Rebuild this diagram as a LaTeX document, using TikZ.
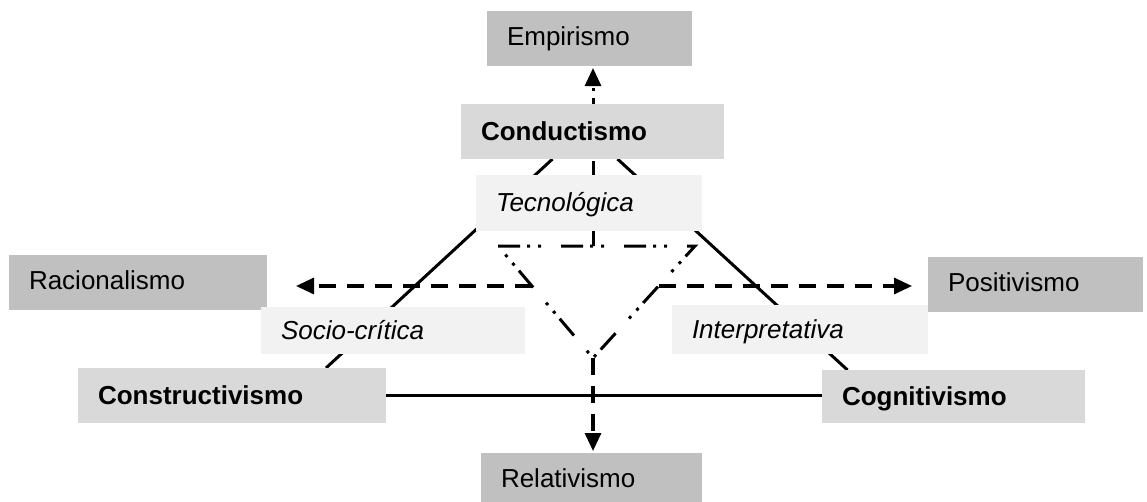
\documentclass[tikz,border=0pt]{standalone}
\usepackage{fontspec}
\setmainfont{Liberation Sans}
\usetikzlibrary{arrows.meta,calc}
\definecolor{darkbox}{HTML}{C0C0C0}
\definecolor{midbox}{HTML}{D9D9D9}
\definecolor{lightbox}{HTML}{F2F2F2}
\pgfdeclarelayer{background}
\pgfsetlayers{background,main}
\begin{document}
\begin{tikzpicture}[x=1pt,y=-1pt,
  lbl/.style={anchor=north west, inner xsep=20pt, inner ysep=0pt, outer sep=0pt,
    align=left, font=\fontsize{26}{30}\selectfont, text height=18.6pt, text depth=4pt},
  school/.style={lbl, fill=darkbox},
  theory/.style={lbl, fill=midbox, font=\fontsize{26}{30}\selectfont\bfseries, text depth=0pt},
  paradigm/.style={lbl, fill=lightbox, font=\fontsize{26}{30}\selectfont\itshape, text depth=1pt},
  solidln/.style={line width=3pt},
  dashln/.style={line width=3.2pt, dash pattern=on 17pt off 11pt},
  ddline/.style={line width=3pt, dash pattern=on 22pt off 7pt on 3pt off 8pt on 3pt off 20pt},
  tip/.style={-{Triangle[length=18pt,width=16pt]}}
]
\useasboundingbox (0,0) rectangle (1147,501);

% schools of thought
\node[school, text width=165pt, minimum height=55pt] (emp) at (487,11) {Empirismo};
\node[school, text width=218pt, minimum height=55pt] (rac) at (9,255) {Racionalismo};
\node[school, text width=175pt, minimum height=55pt] (pos) at (928,257) {Positivismo};
\node[school, text width=181pt, minimum height=55pt] (rel) at (481,453) {Relativismo};

% learning theories
\node[theory, text width=223pt, minimum height=55pt] (cond) at (461,104) {Conductismo};
\node[theory, text width=268pt, minimum height=55pt] (constr) at (78,368) {Constructivismo};
\node[theory, text width=223pt, minimum height=53pt] (cog) at (822,370) {Cognitivismo};

% paradigms
\node[paradigm, text width=186pt, minimum height=56pt] (tec) at (476,175) {Tecnológica};
\node[paradigm, text width=224pt, minimum height=47pt] (soc) at (261,307) {Socio-crítica};
\node[paradigm, text width=216pt, minimum height=49pt] (int) at (672,305) {Interpretativa};

% inner triangle and connectors
\coordinate (T1) at (498,246);
\coordinate (T2) at (695,246);
\coordinate (T3) at (593,358);
\coordinate (lstart) at ($(T1)!0.357!(T3)$);
\coordinate (rstart) at ($(T2)!0.357!(T3)$);

\begin{pgfonlayer}{background}
  \draw[solidln] ([xshift=-40pt]cond.south) -- ([xshift=94pt]constr.north);
  \draw[solidln] ([xshift=25pt]cond.south) -- ([xshift=-106pt]cog.north);
  \draw[solidln] (constr.east) -- (constr.east -| cog.west);
  \draw[ddline] (T1) -- (T2) -- (T3) -- cycle;
  \draw[ddline, tip, shorten >=2pt] (T3 |- T1) -- (T3 |- emp.south);
  \draw[dashln, tip, shorten >=29pt] (lstart) -- (lstart -| rac.east);
  \draw[dashln, tip, shorten >=16pt] (rstart) -- (rstart -| pos.west);
  \draw[dashln, tip, shorten >=2pt] (T3) -- (T3 |- rel.north);
\end{pgfonlayer}
\end{tikzpicture}
\end{document}
